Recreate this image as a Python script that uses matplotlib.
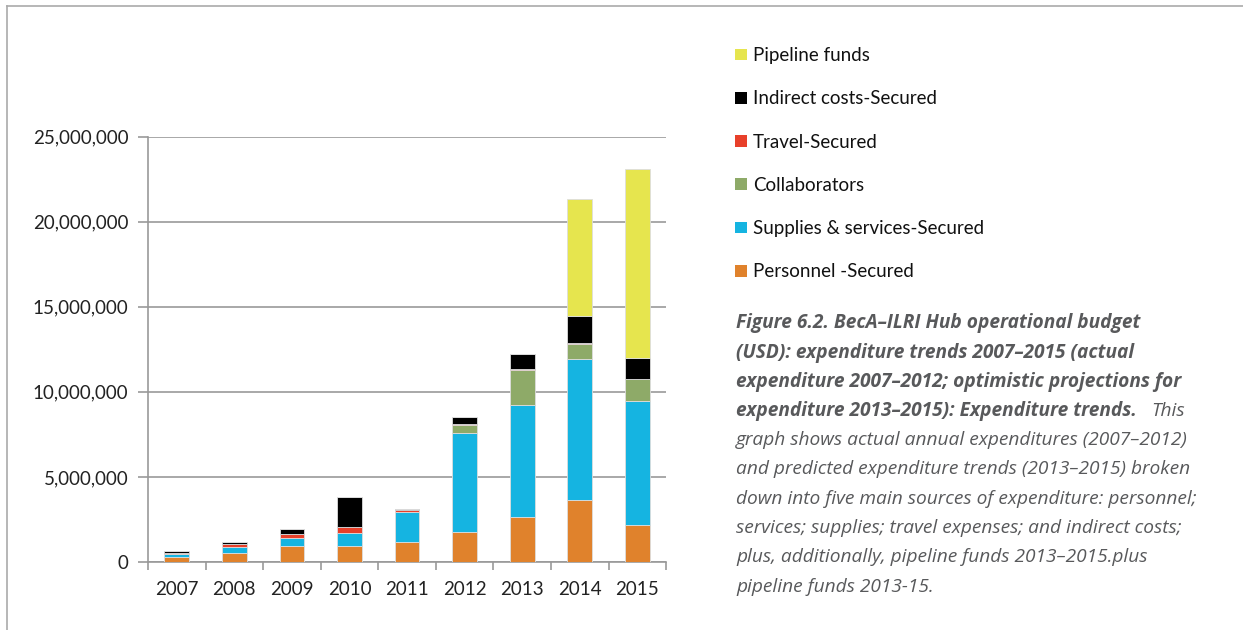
import matplotlib
matplotlib.use("Agg")
import matplotlib.pyplot as plt
from matplotlib.patches import Patch
from matplotlib.lines import Line2D
from matplotlib.ticker import FuncFormatter
import numpy as np

years = ["2007", "2008", "2009", "2010", "2011", "2012", "2013", "2014", "2015"]

# values in USD
personnel = [320000, 550000, 960000, 960000, 1150000, 1750000, 2650000, 3650000, 2200000]
supplies = [150000, 350000, 430000, 750000, 1780000, 5850000, 6590000, 8270000, 7270000]
collaborators = [0, 0, 0, 0, 0, 430000, 2040000, 870000, 1280000]
travel = [80000, 140000, 240000, 350000, 100000, 80000, 70000, 90000, 0]
indirect = [70000, 150000, 290000, 1740000, 110000, 430000, 870000, 1570000, 1230000]
pipeline = [0, 0, 0, 0, 0, 0, 0, 6900000, 11150000]

series = [
    ("Personnel -Secured", personnel, "#e0822c"),
    ("Supplies & services-Secured", supplies, "#15b4e1"),
    ("Collaborators", collaborators, "#8eaa68"),
    ("Travel-Secured", travel, "#e8402a"),
    ("Indirect costs-Secured", indirect, "#000000"),
    ("Pipeline funds", pipeline, "#e6e54e"),
]

plt.rcParams["font.family"] = ["Lato", "DejaVu Sans"]

fig = plt.figure(figsize=(12.43, 6.30), dpi=100)
ax = fig.add_axes([0.119, 0.108, 0.417, 0.675])

x = np.arange(len(years))
bottom = np.zeros(len(years))
for name, vals, col in series:
    vals = np.array(vals, dtype=float)
    ax.bar(x, vals, 0.43, bottom=bottom, color=col, edgecolor="#dddddd",
           linewidth=0.6, zorder=3)
    bottom += vals

ax.set_xlim(-0.5, len(years) - 0.5)
ax.set_ylim(0, 25000000)
ax.set_yticks(np.arange(0, 25000001, 5000000))
ax.yaxis.set_major_formatter(FuncFormatter(lambda v, p: f"{int(v):,}"))
ax.set_xticks(x)
ax.set_xticklabels(years)
ax.set_xticks(np.arange(-0.5, len(years)), minor=True)
ax.tick_params(axis="x", which="major", length=0, pad=14, labelsize=13.5, colors="#222222")
ax.tick_params(axis="x", which="minor", length=6, color="#999999", width=1.2)
ax.tick_params(axis="y", length=7, color="#999999", width=1.2, pad=7,
               labelsize=13.5, labelcolor="#222222")
ax.grid(axis="y", color="#999999", linewidth=1.2, zorder=0)
for s in ["top", "right"]:
    ax.spines[s].set_visible(False)
for s in ["left", "bottom"]:
    ax.spines[s].set_color("#999999")
    ax.spines[s].set_linewidth(1.2)

handles = [Patch(facecolor=col, edgecolor="none") for name, vals, col in series][::-1]
labels = [name for name, vals, col in series][::-1]
fig.legend(handles, labels, loc="upper left", bbox_to_anchor=(0.578, 0.952),
           frameon=False, fontsize=13.5, handlelength=0.6, handleheight=0.6,
           handletextpad=0.35, labelspacing=1.4, labelcolor="#111111")

# page border
fig.add_artist(Line2D([0.0056, 1.0], [0.990, 0.990], color="#aaaaaa", lw=1.2))
fig.add_artist(Line2D([0.0056, 0.0056], [0.0, 0.990], color="#aaaaaa", lw=1.2))

cap_col = "#58595b"
cap_font = ["Open Sans", "DejaVu Sans"]
cx = 736 / 1243
bold_lines = [
    "Figure 6.2. BecA\u2013ILRI Hub operational budget",
    "(USD): expenditure trends 2007\u20132015 (actual",
    "expenditure 2007\u20132012; optimistic projections for",
    "expenditure 2013\u20132015): Expenditure trends.",
]
reg_lines = [
    "graph shows actual annual expenditures (2007\u20132012)",
    "and predicted expenditure trends (2013\u20132015) broken",
    "down into five main sources of expenditure: personnel;",
    "services; supplies; travel expenses; and indirect costs;",
    "plus, additionally, pipeline funds 2013\u20132015.plus",
    "pipeline funds 2013-15.",
]
ys = [323, 353, 382, 411, 440, 469, 499, 528, 557, 587]
for i, t in enumerate(bold_lines):
    fig.text(cx, 1 - ys[i] / 630, t, ha="left", va="center", fontsize=13.8,
             style="italic", weight="bold", color=cap_col, family=cap_font)
fig.text(1151 / 1243, 1 - ys[3] / 630, "This", ha="left", va="center",
         fontsize=13.8, style="italic", color=cap_col, family=cap_font)
for i, t in enumerate(reg_lines):
    fig.text(cx, 1 - ys[i + 4] / 630, t, ha="left", va="center", fontsize=13.8,
             style="italic", color=cap_col, family=cap_font)

fig.savefig("out.png", dpi=100)
